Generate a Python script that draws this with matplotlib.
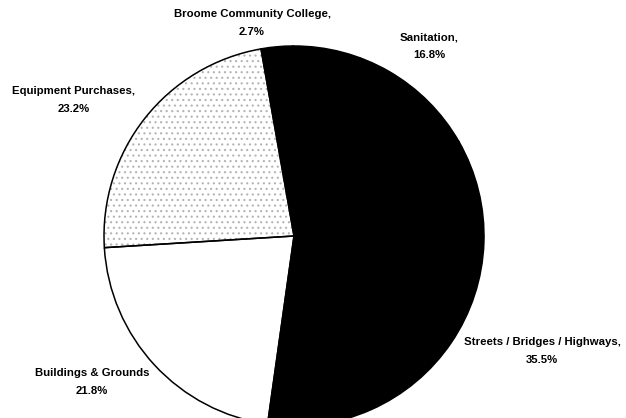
import matplotlib.pyplot as plt

categories = ['Broome Community College', 'Sanitation', 'Streets / Bridges / Highways',
              'Buildings & Grounds', 'Equipment Purchases']
shares = [2.7, 16.8, 35.5, 21.8, 23.2]
label_texts = ['Broome Community College,\n2.7%', 'Sanitation,\n16.8%',
               'Streets / Bridges / Highways,\n35.5%', 'Buildings & Grounds\n21.8%',
               'Equipment Purchases,\n23.2%']

colors = ['black', 'black', 'black', 'white', 'white']
hatches = [None, None, None, None, '...']

# where the labels sit, in pixels from the top-left corner
label_px = [(252, 23), (429, 46), (542, 351), (92, 382), (74, 100)]

W, H = 626, 418
cx, cy, r = 294, 236, 190

plt.rcParams['font.family'] = ['Liberation Sans', 'DejaVu Sans']
plt.rcParams['hatch.linewidth'] = 0.8

fig = plt.figure(figsize=(W / 100, H / 100), dpi=100)
ax = fig.add_axes([0, 0, 1, 1])

# fill layer (hatch for the stippled slice)
fill, _ = ax.pie(shares, colors=colors, startangle=100, counterclock=False,
                 wedgeprops=dict(linewidth=0))
for w, h in zip(fill, hatches):
    if h:
        w.set_hatch(h)
        w.set_edgecolor('#b4b4b4')

# outline layer
ax.pie(shares, startangle=100, counterclock=False,
       wedgeprops=dict(facecolor='none', edgecolor='black', linewidth=1.1))

ax.set_aspect('auto')
ax.set_xlim(-cx / r, (W - cx) / r)
ax.set_ylim((cy - H) / r, cy / r)
ax.axis('off')

for txt, (px, py) in zip(label_texts, label_px):
    ax.text((px - cx) / r, (cy - py) / r, txt, ha='center', va='center',
            fontsize=8.2, fontweight='bold', linespacing=1.95, color='black')

fig.savefig('out.png', dpi=100)
